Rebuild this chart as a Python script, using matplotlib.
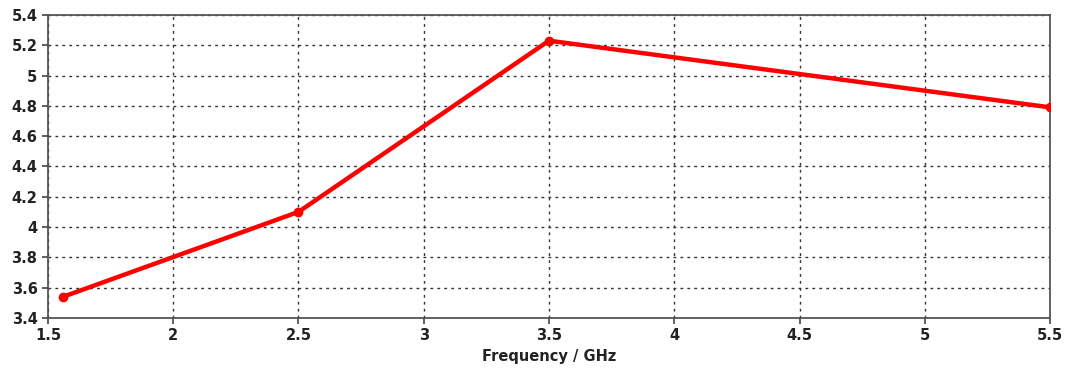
import matplotlib
matplotlib.use("Agg")
import matplotlib.pyplot as plt

freq = [1.56, 2.5, 3.5, 5.5]
gain = [3.54, 4.10, 5.23, 4.79]
xticks = [1.5, 2, 2.5, 3, 3.5, 4, 4.5, 5, 5.5]
xticklabels = ["1.5", "2", "2.5", "3", "3.5", "4", "4.5", "5", "5.5"]
yticks = [3.4, 3.6, 3.8, 4.0, 4.2, 4.4, 4.6, 4.8, 5.0, 5.2, 5.4]
yticklabels = ["3.4", "3.6", "3.8", "4", "4.2", "4.4", "4.6", "4.8", "5", "5.2", "5.4"]

fig = plt.figure(figsize=(10.66, 3.73), dpi=100)
ax = fig.add_axes([0.045, 0.1475, 0.94, 0.8125])
ax.plot(freq, gain, color="#ff0000", lw=3.2, marker="o", ms=6, zorder=3)
ax.set_xlim(1.5, 5.5)
ax.set_ylim(3.4, 5.4)
ax.set_xticks(xticks)
ax.set_xticklabels(xticklabels)
ax.set_yticks(yticks)
ax.set_yticklabels(yticklabels)
ax.grid(True, color="#333333", linestyle=(0, (2, 3)), lw=1.0)
for lbl in ax.get_xticklabels() + ax.get_yticklabels():
    lbl.set_fontweight("bold")
    lbl.set_fontsize(10.5)
    lbl.set_color("#222222")
ax.tick_params(direction="out", length=4, color="#444444", width=1.2)
for s in ax.spines.values():
    s.set_color("#555555")
    s.set_linewidth(1.3)
ax.set_xlabel("Frequency / GHz", fontweight="bold", fontsize=10.5, color="#222222", labelpad=4)
fig.savefig("out.png", dpi=100)
